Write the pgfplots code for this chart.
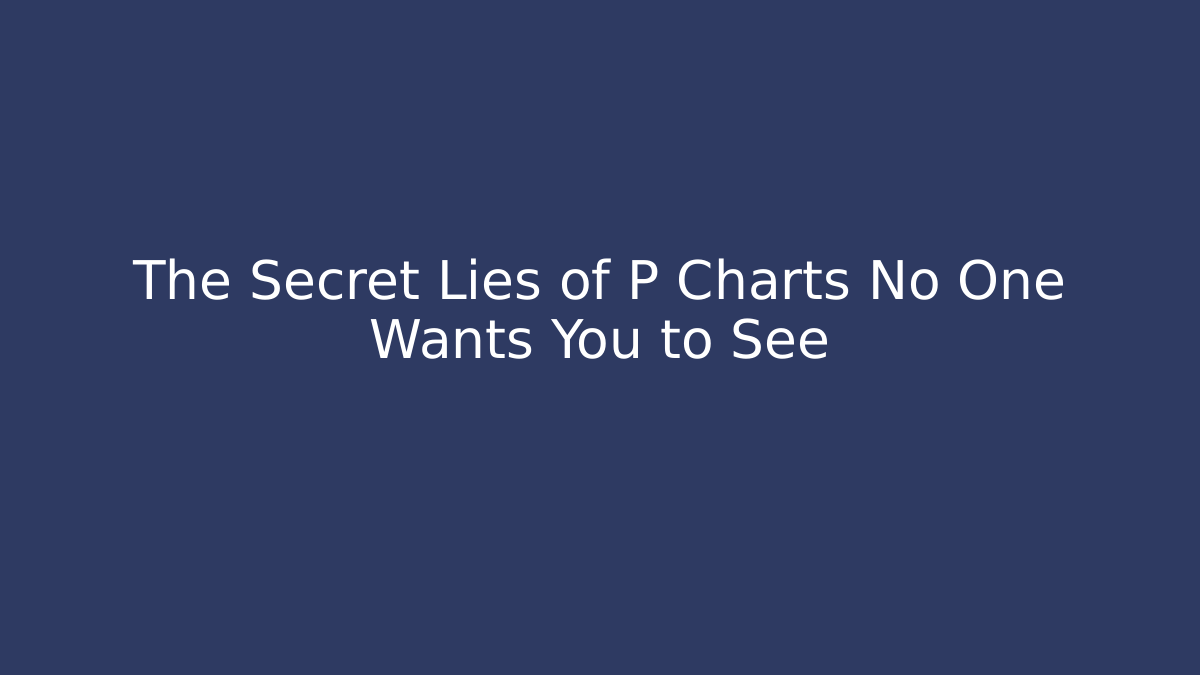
\documentclass[border=0pt]{standalone}
\usepackage{pgfplots}
\pgfplotsset{compat=1.18}
\usepackage{fontspec}
\setmainfont{DejaVu Sans}
\definecolor{bgblue}{HTML}{2E3A62}
\begin{document}
\begin{tikzpicture}
  \begin{axis}[
  width  = 16cm,
  height = 9cm,
  scale only axis,
  axis lines = none,
  ticks = none,
  xmin=0, xmax=1,
  ymin=0, ymax=1,
  clip=false,
  ]
  \fill[bgblue] (rel axis cs:0,0) rectangle (rel axis cs:1,1);
  % title lines, baselines
  \node[anchor=base, text=white, font=\fontsize{20.25pt}{24pt}\selectfont]
    at (rel axis cs:0.5,0.5556) {The Secret Lies of P Charts No One};
  \node[anchor=base, text=white, font=\fontsize{20.25pt}{24pt}\selectfont]
    at (rel axis cs:0.5,0.4696) {Wants You to See};
  \end{axis}
\end{tikzpicture}
\end{document}
